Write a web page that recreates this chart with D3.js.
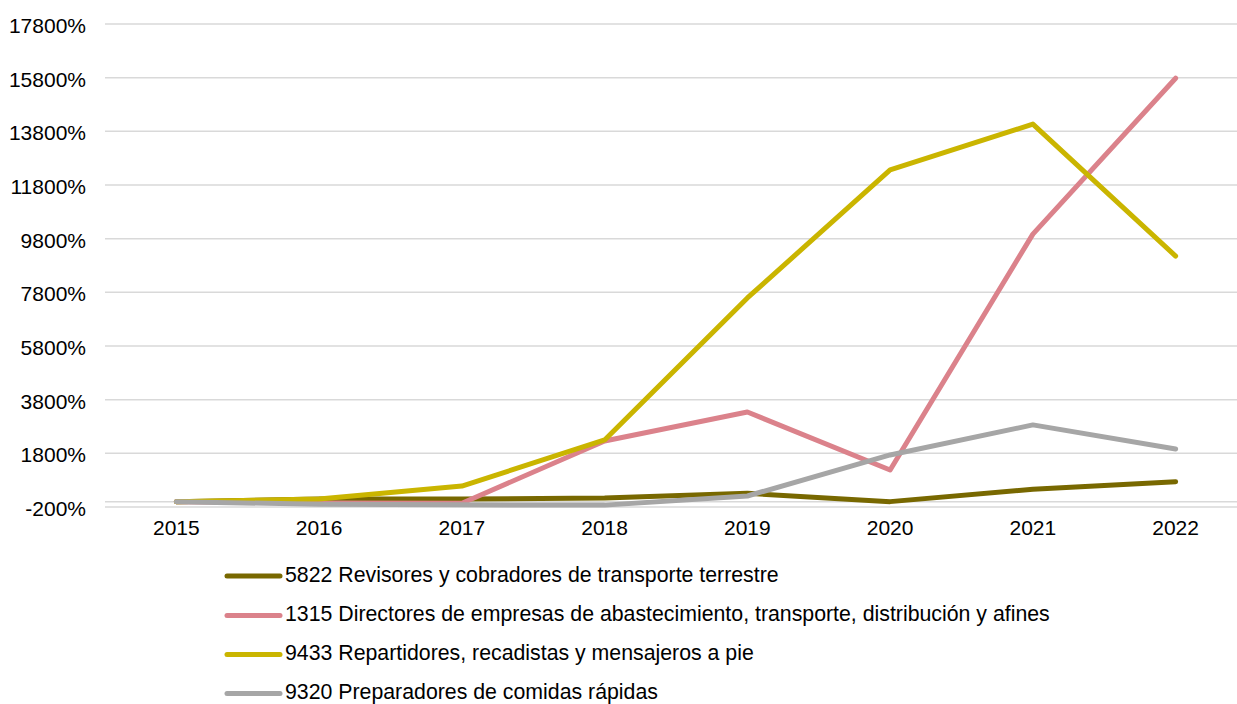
<!DOCTYPE html>
<html><head><meta charset="utf-8">
<script src="https://cdn.jsdelivr.net/npm/d3@7"></script>
<style>body{margin:0;background:#fff}svg{display:block}text{font-family:"Liberation Sans",Arial,sans-serif;fill:#000}</style>
</head><body><svg id="c" width="1237" height="704"></svg>
<script>
const years = ["2015","2016","2017","2018","2019","2020","2021","2022"];
const yTicks = [-200,1800,3800,5800,7800,9800,11800,13800,15800,17800];
const s5822 = [0,100,100,135,310,0,460,743];
const s1315 = [0,-50,-60,2260,3340,1180,9970,15780];
const s9433 = [0,100,580,2300,7590,12360,14070,9150];
const s9320 = [0,-100,-120,-130,210,1740,2860,1960];
const names = [
 "5822 Revisores y cobradores de transporte terrestre",
 "1315 Directores de empresas de abastecimiento, transporte, distribución y afines",
 "9433 Repartidores, recadistas y mensajeros a pie",
 "9320 Preparadores de comidas rápidas"];
const colors = ["#786800","#db828b","#cab500","#a6a6a6"];
const seriesList = [s5822,s1315,s9433,s9320];

(function(){
const svg = d3.select("#c");
const pl = 105, pr = 1247, pt = 24, pb = 507;
const fs = 21;
const x = d3.scalePoint().domain(years).range([pl,pr]).padding(0.5);
const y = d3.scaleLinear().domain([-200,17800]).range([pb,pt]);

svg.append("g").selectAll("line").data(yTicks).join("line")
  .attr("x1",pl).attr("x2",pr).attr("y1",d=>y(d)).attr("y2",d=>y(d))
  .attr("stroke","#d9d9d9").attr("stroke-width",1.5);
svg.append("line").attr("x1",pl).attr("x2",pr).attr("y1",y(0)).attr("y2",y(0))
  .attr("stroke","#d9d9d9").attr("stroke-width",1.5);

svg.append("g").selectAll("text").data(yTicks).join("text")
  .attr("x",86).attr("y",d=>y(d)+9).attr("text-anchor","end")
  .attr("font-size",fs).text(d=>d+"%");
svg.append("g").selectAll("text").data(years).join("text")
  .attr("x",d=>x(d)).attr("y",535).attr("text-anchor","middle")
  .attr("font-size",fs).text(d=>d);

const line = d3.line().x((d,i)=>x(years[i])).y(d=>y(d));
seriesList.forEach((s,k)=>{
  svg.append("path").datum(s).attr("d",line).attr("fill","none")
    .attr("stroke",colors[k]).attr("stroke-width",5)
    .attr("stroke-linecap","round").attr("stroke-linejoin","round");
});

const ly = [576,615.5,654.5,693.5];
names.forEach((n,k)=>{
  svg.append("line").attr("x1",227).attr("x2",280).attr("y1",ly[k]).attr("y2",ly[k])
    .attr("stroke",colors[k]).attr("stroke-width",5).attr("stroke-linecap","round");
  svg.append("text").attr("x",285).attr("y",ly[k]+5.5)
    .attr("font-size",21.3).text(n);
});
})();
</script></body></html>
